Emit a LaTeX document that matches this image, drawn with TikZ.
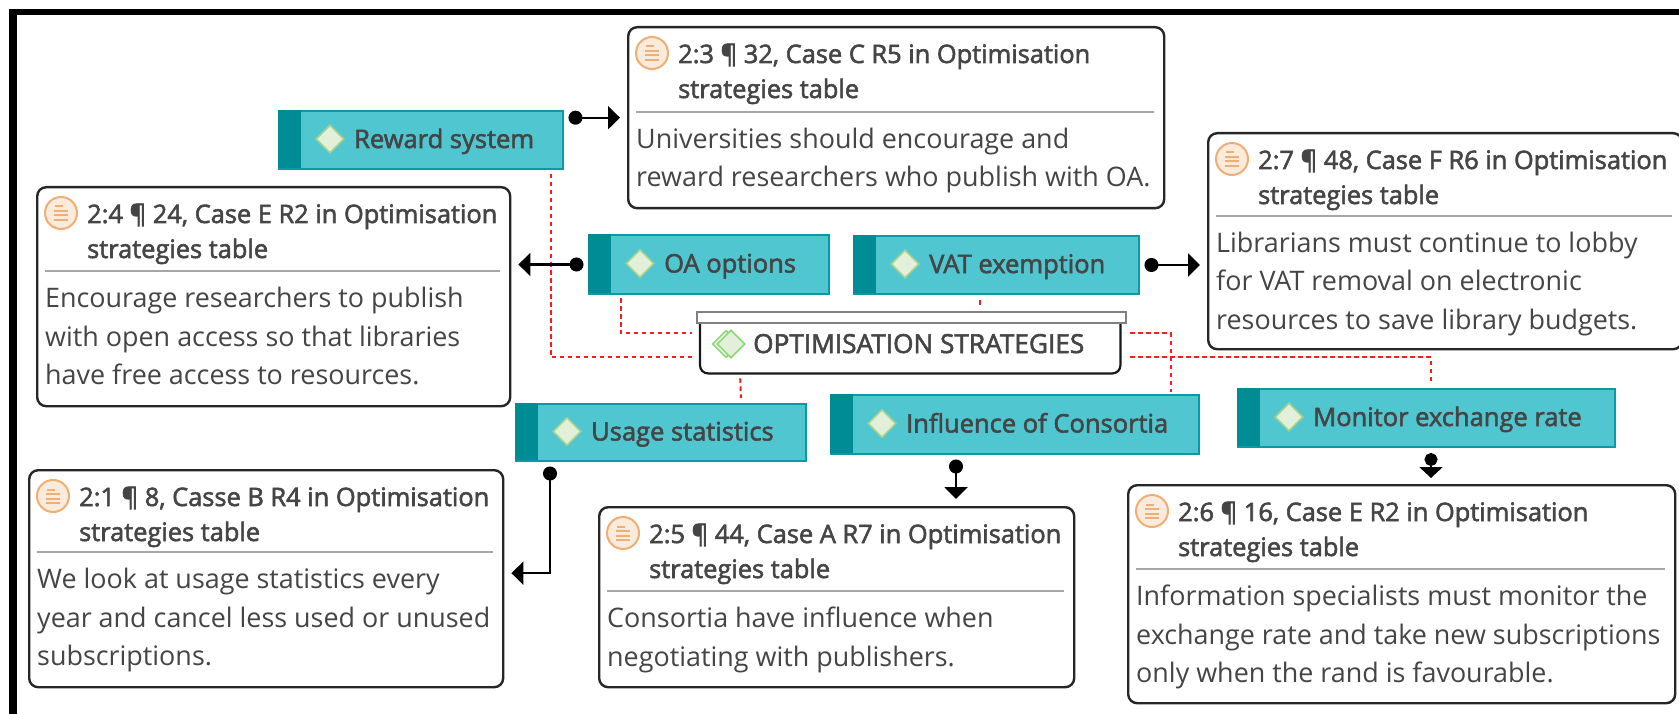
\documentclass[tikz,border=0pt]{standalone}
\usepackage{fontspec}
\setmainfont{Open Sans}
\newfontfamily\semif[FakeBold=2.2]{Open Sans}
\usetikzlibrary{shapes.geometric,arrows.meta,calc}
\definecolor{tagfill}{HTML}{4FC6D0}
\definecolor{tagline}{HTML}{0A9AA5}
\definecolor{tagband}{HTML}{008C95}
\definecolor{diafill}{HTML}{E2F0D9}
\definecolor{dialine}{HTML}{A9D18E}
\definecolor{txt}{HTML}{454545}
\definecolor{icofill}{HTML}{FBEBDC}
\definecolor{icoline}{HTML}{F0AE72}
\definecolor{sepcol}{HTML}{A6A6A6}
\definecolor{redline}{HTML}{FF1A1A}
\tikzset{
  x=1pt,y=-1pt,
  evbox/.style={draw=black!85,line width=2.4pt,rounded corners=9pt,fill=white,inner sep=0pt,anchor=north west},
  sepline/.style={draw=sepcol,line width=2pt},
  titletxt/.style={anchor=base west,inner sep=0pt,text=txt,font=\semif\fontsize{25.4}{35}\selectfont},
  bodytxt/.style={anchor=base west,inner sep=0pt,text=txt,font=\fontsize{26.9}{38.5}\selectfont},
  labtxt/.style={anchor=base west,inner sep=0pt,text=txt,font=\semif\fontsize{25.5}{30}\selectfont},
  icon/.style={circle,draw=icoline,fill=icofill,line width=2pt,minimum size=32pt,inner sep=0pt},
  icobar/.style={draw=icoline,line width=2pt},
  tagnode/.style={draw=tagline,line width=2pt,fill=tagfill,inner sep=0pt,anchor=north west},
  tagdia/.style={diamond,draw=dialine,fill=diafill,line width=1.6pt,minimum size=28pt,inner sep=0pt,aspect=1},
  link/.style={draw=black,line width=2.2pt,shorten <=4.5pt,shorten >=7pt,{Circle[length=14pt,width=14pt]}-{Triangle[length=12pt,width=23pt]}},
  redlink/.style={draw=redline,line width=2pt,dash pattern=on 4.5pt off 3.5pt},
}
% #1 name, #2 left, #3 top, #4 width, #5 height, #6 title, #7 body, #8 separator offset
\newcommand{\evidence}[8]{%
  \node[evbox,minimum width=#4pt,minimum height=#5pt] (#1) at (#2,#3) {};
  \begin{scope}[shift={(#2,#3)}]
    \node[icon] (#1i) at (25,27) {};
    \draw[icobar] (19,20.5) -- (27,20.5) (18,25) -- (32,25) (18,29.5) -- (32,29.5) (18,34) -- (32,34);
    \node[titletxt] (#1t) at (51,37) {#6};
    \node[titletxt] (#1u) at (51,72) {strategies table};
    \draw[sepline] (9,#8) -- ({#4-9},#8);
    \node[bodytxt] (#1b) at (9,{#8+36.5}) {\parbox[t]{#4pt}{#7}};
  \end{scope}
}
% #1 name, #2 left, #3 top, #4 width, #5 height, #6 label
\newcommand{\concept}[6]{%
  \node[tagnode,minimum width=#4pt,minimum height=#5pt] (#1) at (#2,#3) {};
  \begin{scope}[shift={(#2,#3)}]
    \fill[tagband] (0,0) rectangle (23,#5);
    \node[tagdia] (#1d) at (52,{#5/2}) {};
    \node[labtxt] (#1l) at (76,{#5/2+9}) {#6};
  \end{scope}
}
\begin{document}
\begin{tikzpicture}
\useasboundingbox (0,0) rectangle (1679,714);
\fill[white] (0,0) rectangle (1679,714);
\fill[black] (9,9) rectangle (1679,15);
\fill[black] (9,9) rectangle (17,714);

\evidence{eva}{627}{26}{536}{181}{2:3 ¶ 32, Case C R5 in Optimisation}{Universities should encourage and\\reward researchers who publish with OA.}{86}
\evidence{evb}{36}{186}{473}{219}{2:4 ¶ 24, Case E R2 in Optimisation}{Encourage researchers to publish\\with open access so that libraries\\have free access to resources.}{85}
\evidence{evc}{28}{469}{474}{217}{2:1 ¶ 8, Casse B R4 in Optimisation}{We look at usage statistics every\\year and cancel less used or unused\\subscriptions.}{83}
\evidence{evd}{598}{506}{475}{180}{2:5 ¶ 44, Case A R7 in Optimisation}{Consortia have influence when\\negotiating with publishers.}{85}
\evidence{eve}{1127}{484}{547}{218}{2:6 ¶ 16, Case E R2 in Optimisation}{Information specialists must monitor the\\exchange rate and take new subscriptions\\only when the rand is favourable.}{85}
\evidence{evf}{1207}{132}{474}{216}{2:7 ¶ 48, Case F R6 in Optimisation}{Librarians must continue to lobby\\for VAT removal on electronic\\resources to save library budgets.}{84}

\concept{rw}{278}{110}{284}{58}{Reward system}
\concept{oa}{588}{234}{240}{59}{OA options}
\concept{vat}{853}{235}{285}{58}{VAT exemption}
\concept{us}{515}{403}{290}{57}{Usage statistics}
\concept{inf}{830}{394}{368}{59}{Influence of Consortia}
\concept{mon}{1237}{388}{377}{58}{Monitor exchange rate}

% central node
\node[fill=white,inner sep=0pt,minimum width=420pt,minimum height=51pt,anchor=north west] (os) at (700,322) {};
\draw[black!90,line width=2.2pt,rounded corners=8pt] (os.north west) -- (os.south west) -- (os.south east) -- (os.north east);
\node[draw=gray,line width=2.2pt,fill=white,inner sep=0pt,minimum width=429pt,minimum height=11pt,anchor=north west] (osbar) at (696,311) {};
\node[tagdia,fill=white,draw=dialine!80!green,minimum size=27pt] (osdb) at (726,344) {};
\node[tagdia,draw=dialine!80!green,minimum size=28pt] (osdf) at (731,344) {};
\node[labtxt,font=\semif\fontsize{26.2}{30}\selectfont] (osl) at (753,353) {OPTIMISATION STRATEGIES};

% relation lines
\draw[redlink] ([shift={(-13pt,-4pt)}]rw.south east) |- ([shift={(-8pt,-9.5pt)}]os.west);
\draw[redlink] ([shift={(33pt,-3pt)}]oa.south west) |- ([shift={(-8pt,14.5pt)}]os.west);
\draw[redlink] ([shift={(-16.5pt,-5pt)}]vat.south) -- ([xshift=-16.5pt,yshift=3pt]vat.south |- osbar.north);
\draw[redlink] ([shift={(-170pt,-5pt)}]os.south) -- ([shift={(80pt,5pt)}]us.north);
\draw[redlink] ([shift={(10pt,14.5pt)}]os.east) -| ([shift={(-29pt,2pt)}]inf.north east);
\draw[redlink] ([shift={(10pt,-9.5pt)}]os.east) -| ([shift={(4.5pt,4pt)}]mon.north);

% arrows
\draw[link] (rw.east |- eva.west) -- (eva.west);
\draw[link] (oa.west) -- (oa.west -| evb.east);
\draw[link] (vat.east) -- (vat.east -| evf.west);
\coordinate (usp) at ([xshift=-111pt]us.south);
\draw[link] (usp) |- ([yshift=5.5pt]evc.east);
\coordinate (infp) at ([xshift=-59pt]inf.south);
\draw[link] (infp) -- (infp |- evd.north);
\coordinate (monp) at ([xshift=4.5pt]mon.south);
\draw[link,shorten <=5pt,shorten >=6pt,{Circle[length=13pt,width=13pt]}-{Triangle[length=11pt,width=23pt]}] (monp) -- (monp |- eve.north);
\end{tikzpicture}
\end{document}
